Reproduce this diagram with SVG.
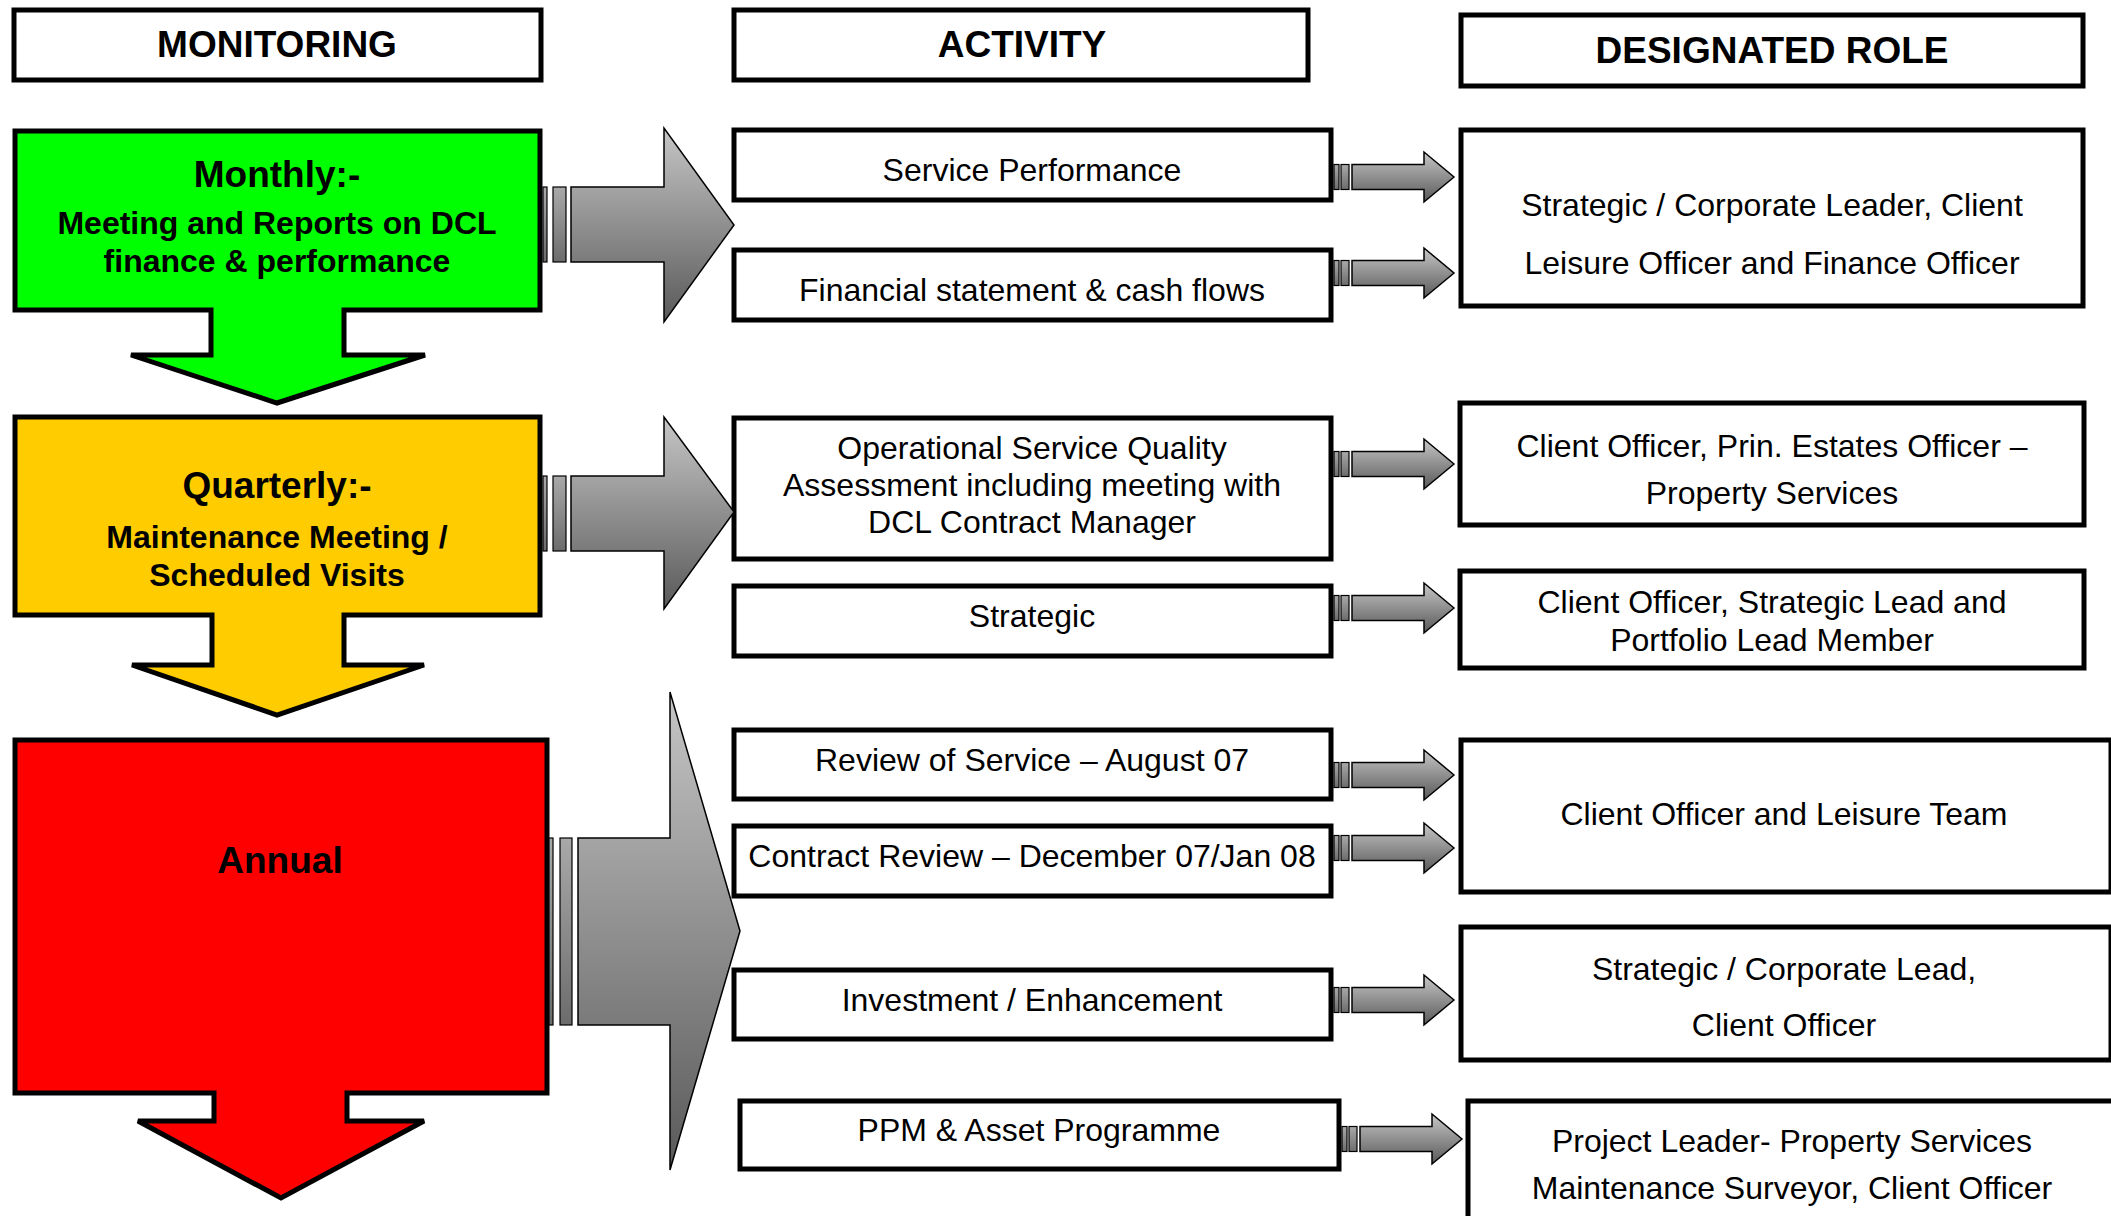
<svg xmlns="http://www.w3.org/2000/svg" width="2111" height="1216" viewBox="0 0 2111 1216">
  <defs>
    <linearGradient id="grey" x1="0" y1="0" x2="0" y2="1">
      <stop offset="0" stop-color="#c6c6c6"/>
      <stop offset="1" stop-color="#595959"/>
    </linearGradient>
    <linearGradient id="greyMid" x1="0" y1="0" x2="0" y2="1">
      <stop offset="0" stop-color="#a9a9a9"/>
      <stop offset="1" stop-color="#6c6c6c"/>
    </linearGradient>
    <style>
      .box { fill: #ffffff; stroke: #000000; stroke-width: 5; }
      .flow { stroke: #000000; stroke-width: 5; stroke-linejoin: miter; }
      .arrow { fill: url(#grey); stroke: #000000; stroke-width: 1.5; stroke-linejoin: miter; }
      .stripe { fill: url(#greyMid); stroke: #000000; stroke-width: 1.2; }
      .hdr { font-family: "Liberation Sans", Arial, sans-serif; font-weight: bold; font-size: 37px; text-anchor: middle; fill: #000; }
      .ttl { font-family: "Liberation Sans", Arial, sans-serif; font-weight: bold; font-size: 37px; text-anchor: middle; fill: #000; }
      .sub { font-family: "Liberation Sans", Arial, sans-serif; font-weight: bold; font-size: 32px; text-anchor: middle; fill: #000; }
      .txt { font-family: "Liberation Sans", Arial, sans-serif; font-size: 32px; text-anchor: middle; fill: #000; }
    </style>
  </defs>

  <!-- Column headings -->
  <g id="hdr-monitoring">
    <rect class="box" x="14" y="10" width="527" height="70"/>
    <text class="hdr" x="277" y="57">MONITORING</text>
  </g>
  <g id="hdr-activity">
    <rect class="box" x="734" y="10" width="574" height="70"/>
    <text class="hdr" x="1022" y="57">ACTIVITY</text>
  </g>
  <g id="hdr-role">
    <rect class="box" x="1461" y="15" width="622" height="71"/>
    <text class="hdr" x="1772" y="63">DESIGNATED ROLE</text>
  </g>

  <!-- Monitoring stages: box with a downward arrow -->
  <g id="stage-monthly">
    <path class="flow" fill="#00ff00" d="M15,131 H540 V310 H344 V355 H425 L277,403 L131,355 H211 V310 H15 Z"/>
    <text class="ttl" x="277" y="187">Monthly:-</text>
    <text class="sub" x="277" y="234">Meeting and Reports on DCL</text>
    <text class="sub" x="277" y="272">finance &amp; performance</text>
  </g>
  <g id="stage-quarterly">
    <path class="flow" fill="#ffcc00" d="M15,417 H540 V615 H344 V665 H424 L277,715 L132,665 H212 V615 H15 Z"/>
    <text class="ttl" x="277" y="498">Quarterly:-</text>
    <text class="sub" x="277" y="548">Maintenance Meeting /</text>
    <text class="sub" x="277" y="586">Scheduled Visits</text>
  </g>
  <g id="stage-annual">
    <path class="flow" fill="#ff0000" d="M15,740 H547 V1093 H347 V1121 H424 L281,1198 L138,1121 H214 V1093 H15 Z"/>
    <text class="ttl" x="280" y="873">Annual</text>
  </g>

  <!-- Activities -->
  <g id="act-service">
    <rect class="box" x="734" y="130" width="597" height="70"/>
    <text class="txt" x="1032" y="181">Service Performance</text>
  </g>
  <g id="act-financial">
    <rect class="box" x="734" y="250" width="597" height="70"/>
    <text class="txt" x="1032" y="301">Financial statement &amp; cash flows</text>
  </g>
  <g id="act-operational">
    <rect class="box" x="734" y="418" width="597" height="141"/>
    <text class="txt" x="1032" y="459">Operational Service Quality</text>
    <text class="txt" x="1032" y="496">Assessment including meeting with</text>
    <text class="txt" x="1032" y="533">DCL Contract Manager</text>
  </g>
  <g id="act-strategic">
    <rect class="box" x="734" y="586" width="597" height="70"/>
    <text class="txt" x="1032" y="627">Strategic</text>
  </g>
  <g id="act-review">
    <rect class="box" x="734" y="730" width="597" height="69"/>
    <text class="txt" x="1032" y="771">Review of Service – August 07</text>
  </g>
  <g id="act-contract">
    <rect class="box" x="734" y="826" width="597" height="70"/>
    <text class="txt" x="1032" y="867">Contract Review – December 07/Jan 08</text>
  </g>
  <g id="act-investment">
    <rect class="box" x="734" y="970" width="597" height="69"/>
    <text class="txt" x="1032" y="1011">Investment / Enhancement</text>
  </g>
  <g id="act-ppm">
    <rect class="box" x="740" y="1101" width="599" height="68"/>
    <text class="txt" x="1039" y="1141">PPM &amp; Asset Programme</text>
  </g>

  <!-- Designated roles -->
  <g id="role-strategic-finance">
    <rect class="box" x="1461" y="130" width="622" height="176"/>
    <text class="txt" x="1772" y="216">Strategic / Corporate Leader, Client</text>
    <text class="txt" x="1772" y="274">Leisure Officer and Finance Officer</text>
  </g>
  <g id="role-estates">
    <rect class="box" x="1460" y="403" width="624" height="122"/>
    <text class="txt" x="1772" y="457">Client Officer, Prin. Estates Officer –</text>
    <text class="txt" x="1772" y="504">Property Services</text>
  </g>
  <g id="role-portfolio">
    <rect class="box" x="1460" y="571" width="624" height="97"/>
    <text class="txt" x="1772" y="613">Client Officer, Strategic Lead and</text>
    <text class="txt" x="1772" y="651">Portfolio Lead Member</text>
  </g>
  <g id="role-leisure">
    <rect class="box" x="1461" y="740" width="650" height="152"/>
    <text class="txt" x="1784" y="825">Client Officer and Leisure Team</text>
  </g>
  <g id="role-corporate">
    <rect class="box" x="1461" y="927" width="650" height="133"/>
    <text class="txt" x="1784" y="980">Strategic / Corporate Lead,</text>
    <text class="txt" x="1784" y="1036">Client Officer</text>
  </g>
  <g id="role-property">
    <rect class="box" x="1468" y="1101" width="650" height="130"/>
    <text class="txt" x="1792" y="1152">Project Leader- Property Services</text>
    <text class="txt" x="1792" y="1199">Maintenance Surveyor, Client Officer</text>
  </g>

  <!-- Connectors -->
  <g id="connectors">
    <!-- monthly -> activities -->
    <rect class="stripe" x="543" y="187" width="4" height="75"/>
    <rect class="stripe" x="553" y="187" width="13" height="75"/>
    <path class="arrow" d="M571,187 H664 V128 L734,225 L664,322 V262 H571 Z"/>
    <!-- quarterly -> activities -->
    <rect class="stripe" x="543" y="476" width="4" height="75"/>
    <rect class="stripe" x="553" y="476" width="13" height="75"/>
    <path class="arrow" d="M571,476 H664 V417 L734,512 L664,609 V551 H571 Z"/>
    <!-- annual -> activities -->
    <rect class="stripe" x="549" y="838" width="4" height="187"/>
    <rect class="stripe" x="560" y="838" width="12" height="187"/>
    <path class="arrow" d="M578,838 H670 V692 L740,931 L670,1170 V1025 H578 Z"/>

    <!-- activity -> role -->
    <g id="link-1" transform="translate(0,177)">
      <rect class="stripe" x="1334" y="-12.5" width="5" height="25"/>
      <rect class="stripe" x="1341" y="-12.5" width="8" height="25"/>
      <path class="arrow" d="M1352,-12.5 H1424 V-25 L1454,0 L1424,25 V12.5 H1352 Z"/>
    </g>
    <g id="link-2" transform="translate(0,273)">
      <rect class="stripe" x="1334" y="-12.5" width="5" height="25"/>
      <rect class="stripe" x="1341" y="-12.5" width="8" height="25"/>
      <path class="arrow" d="M1352,-12.5 H1424 V-25 L1454,0 L1424,25 V12.5 H1352 Z"/>
    </g>
    <g id="link-3" transform="translate(0,464)">
      <rect class="stripe" x="1334" y="-12.5" width="5" height="25"/>
      <rect class="stripe" x="1341" y="-12.5" width="8" height="25"/>
      <path class="arrow" d="M1352,-12.5 H1424 V-25 L1454,0 L1424,25 V12.5 H1352 Z"/>
    </g>
    <g id="link-4" transform="translate(0,608)">
      <rect class="stripe" x="1334" y="-12.5" width="5" height="25"/>
      <rect class="stripe" x="1341" y="-12.5" width="8" height="25"/>
      <path class="arrow" d="M1352,-12.5 H1424 V-25 L1454,0 L1424,25 V12.5 H1352 Z"/>
    </g>
    <g id="link-5" transform="translate(0,775)">
      <rect class="stripe" x="1334" y="-12.5" width="5" height="25"/>
      <rect class="stripe" x="1341" y="-12.5" width="8" height="25"/>
      <path class="arrow" d="M1352,-12.5 H1424 V-25 L1454,0 L1424,25 V12.5 H1352 Z"/>
    </g>
    <g id="link-6" transform="translate(0,848)">
      <rect class="stripe" x="1334" y="-12.5" width="5" height="25"/>
      <rect class="stripe" x="1341" y="-12.5" width="8" height="25"/>
      <path class="arrow" d="M1352,-12.5 H1424 V-25 L1454,0 L1424,25 V12.5 H1352 Z"/>
    </g>
    <g id="link-7" transform="translate(0,1000)">
      <rect class="stripe" x="1334" y="-12.5" width="5" height="25"/>
      <rect class="stripe" x="1341" y="-12.5" width="8" height="25"/>
      <path class="arrow" d="M1352,-12.5 H1424 V-25 L1454,0 L1424,25 V12.5 H1352 Z"/>
    </g>
    <g id="link-8" transform="translate(8,1139)">
      <rect class="stripe" x="1334" y="-12.5" width="5" height="25"/>
      <rect class="stripe" x="1341" y="-12.5" width="8" height="25"/>
      <path class="arrow" d="M1352,-12.5 H1424 V-25 L1454,0 L1424,25 V12.5 H1352 Z"/>
    </g>
  </g>
</svg>
